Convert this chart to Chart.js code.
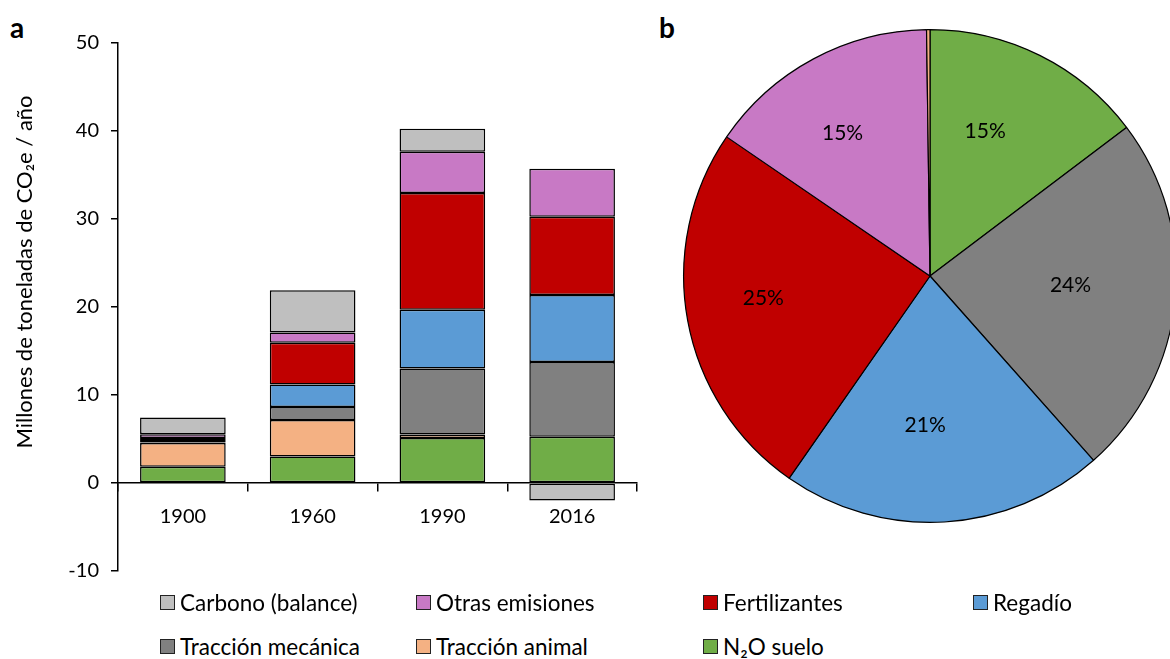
<!DOCTYPE html>
<html>
<head>
<meta charset="utf-8">
<script src="https://cdn.jsdelivr.net/npm/chart.js@4.4.0/dist/chart.umd.min.js"></script>
<style>
  html, body { margin: 0; padding: 0; background: #fff; overflow: hidden; }
  body { width: 1170px; height: 659px; position: relative; font-family: Lato, "Open Sans", sans-serif; }
  #bars { position: absolute; left: 0; top: 0; }
  #pie { position: absolute; left: 680px; top: 26px; }
  .panel { position: absolute; font-weight: bold; font-size: 28px; color: #000; }
  .leg { position: absolute; font-size: 22.5px; color: #000; display: flex; align-items: center; white-space: nowrap; }
  .leg span.box { width: 13px; height: 13px; border: 1px solid #222; margin-right: 5px; display: inline-block; }
</style>
</head>
<body>
<div class="panel" style="left:10px; top:10px;">a</div>
<div class="panel" style="left:659px; top:10px;">b</div>
<canvas id="bars" width="650" height="595"></canvas>
<canvas id="pie" width="500" height="500"></canvas>
<div id="legend"></div>
<script>
  // categories and series (bottom of the stack first)
  var years = ['1900', '1960', '1990', '2016'];
  var n2oSuelo      = [1.85, 3.0, 5.1, 5.26];
  var tracAnimal    = [2.7, 4.15, 0.4, 0];
  var tracMecanica  = [0.05, 1.5, 7.5, 8.5];
  var regadio       = [0.3, 2.55, 6.7, 7.6];
  var fertilizantes = [0.2, 4.75, 13.25, 8.9];
  var otras         = [0.45, 1.15, 4.7, 5.45];
  var carbono       = [1.9, 4.8, 2.6, -2.0];

  // pie (2016 shares), clockwise from the top
  var pieLabels = ['N₂O suelo', 'Tracción mecánica', 'Regadío', 'Fertilizantes', 'Otras emisiones', 'Tracción animal'];
  var pieValues = [5.26, 8.5, 7.6, 8.9, 5.45, 0.08];

  var green  = '#70AD47',
      orange = '#F4B183',
      dgray  = '#808080',
      blue   = '#5B9BD5',
      red    = '#C00000',
      violet = '#C879C5',
      lgray  = '#BFBFBF';

  var font = 'Lato';
  var yTitle = 'Millones de toneladas de CO₂e / año';
  Chart.defaults.font.family = font;
  Chart.defaults.color = '#000';

  var series = [
    { label: 'N₂O suelo', data: n2oSuelo, color: green },
    { label: 'Tracción animal', data: tracAnimal, color: orange },
    { label: 'Tracción mecánica', data: tracMecanica, color: dgray },
    { label: 'Regadío', data: regadio, color: blue },
    { label: 'Fertilizantes', data: fertilizantes, color: red },
    { label: 'Otras emisiones', data: otras, color: violet },
    { label: 'Carbono (balance)', data: carbono, color: lgray }
  ];

  // axis title drawn by hand so it can sit where the original has it
  var axisTitle = {
    id: 'axisTitle',
    afterDraw: function (chart) {
      var ctx = chart.ctx;
      ctx.save();
      ctx.translate(25, 272);
      ctx.rotate(-Math.PI / 2);
      ctx.font = '22px ' + font;
      ctx.fillStyle = '#000';
      ctx.textAlign = 'center';
      ctx.textBaseline = 'middle';
      ctx.fillText(yTitle, 0, 0);
      ctx.restore();
    }
  };

  // Bar Chart
  // ------------------------------------------------------ //
  new Chart(document.getElementById('bars'), {
    type: 'bar',
    data: {
      labels: years,
      datasets: series.map(function (s) {
        return {
          label: s.label,
          data: s.data,
          backgroundColor: s.color,
          borderColor: '#000',
          borderWidth: 1.5,
          borderSkipped: false,
          categoryPercentage: 0.66,
          barPercentage: 1
        };
      })
    },
    options: {
      responsive: false,
      animation: false,
      layout: { padding: { left: 8, top: 43, right: 13, bottom: 3 } },
      plugins: { legend: { display: false }, tooltip: { enabled: false } },
      scales: {
        x: {
          stacked: true,
          position: { y: 0 },
          grid: { drawOnChartArea: false, tickLength: 8, color: '#000', lineWidth: 1.5 },
          border: { color: '#000', width: 1.5 },
          ticks: { font: { size: 20 }, padding: 14, color: '#000' }
        },
        y: {
          stacked: true,
          min: -10,
          max: 50,
          afterFit: function (s) { s.width = 110; },
          ticks: { stepSize: 10, font: { size: 20 }, padding: 12, color: '#000' },
          grid: { drawOnChartArea: false, tickLength: 7, color: '#000', lineWidth: 1.5 },
          border: { color: '#000', width: 1.5 },
          title: { display: false }
        }
      }
    },
    plugins: [axisTitle]
  });

  // Pie Chart
  // ------------------------------------------------------ //
  var pieColors = [green, dgray, blue, red, violet, orange];
  var pctLabels = {
    id: 'pctLabels',
    afterDatasetsDraw: function (chart) {
      var ctx = chart.ctx;
      var meta = chart.getDatasetMeta(0);
      var total = pieValues.reduce(function (a, b) { return a + b; }, 0);
      ctx.save();
      ctx.font = '21px ' + font;
      ctx.fillStyle = '#000';
      ctx.textAlign = 'center';
      ctx.textBaseline = 'middle';
      meta.data.forEach(function (arc, i) {
        var pct = pieValues[i] / total * 100;
        if (pct < 2) return;
        var a = (arc.startAngle + arc.endAngle) / 2;
        var r = arc.outerRadius * 0.63;
        // Excel's label boxes sit a little up and left of the slice centre
        ctx.fillText(Math.round(pct) + '%', arc.x + Math.cos(a) * r - 14, arc.y + Math.sin(a) * r - 6);
      });
      ctx.restore();
    }
  };

  new Chart(document.getElementById('pie'), {
    type: 'pie',
    data: {
      labels: pieLabels,
      datasets: [{
        data: pieValues,
        backgroundColor: pieColors,
        borderColor: '#000',
        borderWidth: 1.2,
        hoverOffset: 0
      }]
    },
    options: {
      responsive: false,
      animation: false,
      layout: { padding: 3 },
      plugins: { legend: { display: false }, tooltip: { enabled: false } }
    },
    plugins: [pctLabels]
  });

  // legend, top row first (reverse stack order)
  var legendX = [160, 416, 703, 973];
  var legendY = [604, 648];
  var order = [6, 5, 4, 3, 2, 1, 0];
  var legend = document.getElementById('legend');
  order.forEach(function (idx, k) {
    var s = series[idx];
    var el = document.createElement('div');
    el.className = 'leg';
    el.style.left = legendX[k % 4] + 'px';
    el.style.top = (legendY[Math.floor(k / 4)] - 15) + 'px';
    el.innerHTML = '<span class="box" style="background:' + s.color + '"></span>' + s.label;
    legend.appendChild(el);
  });
</script>
</body>
</html>
